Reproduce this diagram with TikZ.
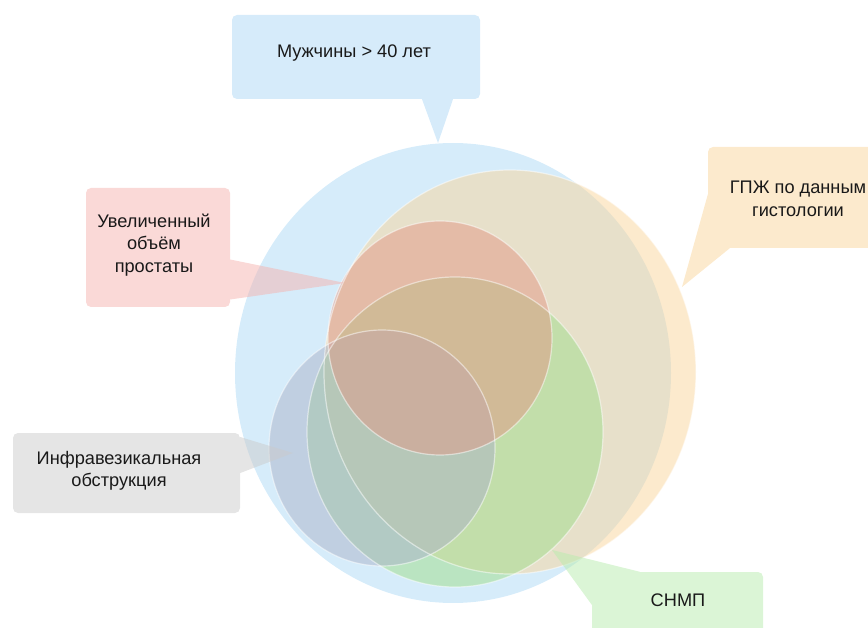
\documentclass[tikz,border=0pt]{standalone}
\usepackage{fontspec}
\setmainfont{Liberation Sans}
\usepackage{tikz}

\definecolor{blueset}{RGB}{173,217,245}
\definecolor{orangeset}{RGB}{249,213,155}
\definecolor{redset}{RGB}{225,152,134}
\definecolor{greenset}{RGB}{159,220,138}
\definecolor{grayset}{RGB}{170,178,200}
\definecolor{bluenote}{RGB}{173,215,245}
\definecolor{rednote}{RGB}{245,179,175}
\definecolor{orangenote}{RGB}{249,213,155}
\definecolor{graynote}{RGB}{203,203,203}
\definecolor{greennote}{RGB}{183,235,173}
\definecolor{notetext}{RGB}{25,25,25}

\tikzset{
  set/.style={fill opacity=0.5},
  rim/.style={draw=white, draw opacity=0.5, line width=1.2pt},
  note/.style={rectangle, rounded corners=5pt, inner sep=0pt, align=center,
    text=notetext, font=\fontsize{18.2}{22.5}\selectfont, text opacity=1},
  notegroup/.style={transparency group, opacity=0.5}
}

\begin{document}
\begin{tikzpicture}[x=1pt, y=-1pt]
\useasboundingbox (0,0) rectangle (868,628);
% sets
\fill[set, fill=blueset] (453,373) ellipse [x radius=218, y radius=230];
\fill[set, fill=orangeset] (510,372) ellipse [x radius=186, y radius=202];
\fill[set, fill=greenset] (455,432) ellipse [x radius=148, y radius=155];
\fill[set, fill=grayset] (382,448) ellipse [x radius=113, y radius=118];
\fill[set, fill=redset] (440,338) ellipse [x radius=112, y radius=117];
% rims
\draw[rim] (510,372) ellipse [x radius=186, y radius=202];
\draw[rim] (455,432) ellipse [x radius=148, y radius=155];
\draw[rim] (382,448) ellipse [x radius=113, y radius=118];
\draw[rim] (440,338) ellipse [x radius=112, y radius=117];
% tips of the callouts
\coordinate (menTip) at (438,143);
\coordinate (volTip) at (345,283);
\coordinate (bphTip) at (682,287);
\coordinate (oboTip) at (293,453);
\coordinate (lutsTip) at (552,550);
% callout boxes
\begin{scope}[notegroup]
\node[note, fill=bluenote, minimum width=248pt, minimum height=84pt] (menBox) at (356,57) {};
\fill[bluenote] ([xshift=66pt]menBox.south) -- (menTip) -- ([xshift=97pt]menBox.south) -- cycle;
\end{scope}
\begin{scope}[notegroup]
\node[note, fill=rednote, minimum width=144pt, minimum height=119pt] (volBox) at (158,247.5) {};
\fill[rednote] ([yshift=-12pt]volBox.east) -- (volTip) -- ([yshift=-52pt]volBox.east) -- cycle;
\end{scope}
\begin{scope}[notegroup]
\node[note, fill=orangenote, minimum width=172pt, minimum height=101pt] (bphBox) at (794,197.5) {};
\fill[orangenote] ([yshift=3pt]bphBox.west) -- (bphTip) -- ([xshift=22pt]bphBox.south west) -- cycle;
\end{scope}
\begin{scope}[notegroup]
\node[note, fill=graynote, minimum width=227pt, minimum height=80pt] (oboBox) at (126.5,473) {};
\fill[graynote] ([yshift=36pt]oboBox.east) -- (oboTip) -- ([yshift=0pt]oboBox.east) -- cycle;
\end{scope}
\begin{scope}[notegroup]
\node[note, fill=greennote, minimum width=171pt, minimum height=70pt] (lutsBox) at (677.5,607) {};
\fill[greennote] ([xshift=48pt]lutsBox.north west) -- (lutsTip) -- ([yshift=-33pt]lutsBox.north west) -- cycle;
\end{scope}
% labels
\node[note] (menText) at (354,53) {Мужчины > 40 лет};
\node[note] (volText) at (154,245) {Увеличенный\\объём\\простаты};
\node[note] (bphText) at (798,199) {ГПЖ по данным\\гистологии};
\node[note] (oboText) at (119,471) {Инфравезикальная\\обструкция};
\node[note] (lutsText) at (678,600) {СНМП};
\end{tikzpicture}
\end{document}
